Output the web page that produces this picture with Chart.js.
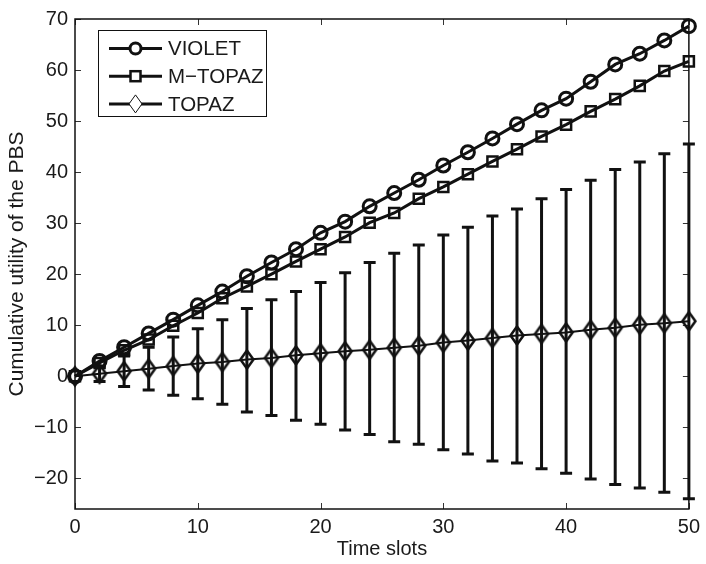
<!DOCTYPE html>
<html>
<head>
<meta charset="utf-8">
<script src="https://cdn.jsdelivr.net/npm/chart.js@4/dist/chart.umd.min.js"></script>
<style>
  html, body { margin: 0; padding: 0; background: #fff; }
</style>
</head>
<body>
<canvas id="chart" width="706" height="564"></canvas>
<script>
// data
const slots = [0, 2, 4, 6, 8, 10, 12, 14, 16, 18, 20, 22, 24, 26, 28, 30, 32, 34, 36, 38, 40, 42, 44, 46, 48, 50];
const violet = [0, 3.0, 5.7, 8.4, 11.1, 13.9, 16.6, 19.6, 22.3, 24.9, 28.1, 30.3, 33.3, 35.9, 38.5, 41.3, 43.9, 46.6, 49.4, 52.1, 54.4, 57.7, 61.1, 63.2, 65.8, 68.6];
const mTopaz = [0, 2.6, 5.1, 7.2, 9.9, 12.4, 15.3, 17.6, 20.0, 22.5, 24.9, 27.3, 30.1, 32.0, 34.8, 37.1, 39.6, 42.1, 44.5, 47.0, 49.3, 51.9, 54.3, 56.9, 59.8, 61.7];
const topaz = [0, 0.5, 1.0, 1.5, 2.0, 2.5, 2.8, 3.3, 3.6, 4.1, 4.5, 4.9, 5.2, 5.6, 6.0, 6.6, 7.0, 7.5, 8.0, 8.3, 8.6, 9.1, 9.5, 10.1, 10.4, 10.8];
const topazLow = [0, -1.0, -2.0, -2.7, -3.7, -4.4, -5.5, -7.0, -7.7, -8.6, -9.4, -10.5, -11.4, -12.8, -13.3, -14.4, -15.2, -16.6, -17.0, -18.1, -19.0, -20.1, -21.2, -21.9, -22.7, -24.0];
const topazHigh = [0, 2.0, 4.0, 5.7, 7.7, 9.3, 11.1, 13.3, 15.0, 16.6, 18.4, 20.3, 22.3, 24.1, 25.7, 27.7, 29.2, 31.4, 32.8, 34.8, 36.6, 38.4, 40.5, 42.0, 43.6, 45.5];
const seriesNames = ['VIOLET', 'M\u2212TOPAZ', 'TOPAZ'];
const xTicks = [0, 10, 20, 30, 40, 50];
const yTicks = [-20, -10, 0, 10, 20, 30, 40, 50, 60, 70];

const INK = '#111';
const TEXT = '#1a1a1a';
const FONT = '"Liberation Sans", Arial, Helvetica, sans-serif';

Chart.defaults.font.family = FONT;
Chart.defaults.font.size = 20;
Chart.defaults.color = TEXT;

function diamond(hw, hh, lw) {
  const c = document.createElement('canvas');
  c.width = Math.ceil(2 * hw + lw + 2);
  c.height = Math.ceil(2 * hh + lw + 2);
  const g = c.getContext('2d');
  const cx = c.width / 2, cy = c.height / 2;
  g.beginPath();
  g.moveTo(cx, cy - hh);
  g.lineTo(cx + hw, cy);
  g.lineTo(cx, cy + hh);
  g.lineTo(cx - hw, cy);
  g.closePath();
  g.lineWidth = lw;
  g.strokeStyle = INK;
  g.stroke();
  return c;
}

const pts = arr => arr.map((v, i) => ({ x: slots[i], y: v }));
const minus = v => String(v).replace('-', '\u2212');

// matlab style box with inward ticks, plus the TOPAZ error bars
const axesBox = {
  id: 'axesBox',
  beforeDatasetsDraw(chart) {
    const { ctx, chartArea: a, scales: { x, y } } = chart;
    ctx.save();
    ctx.strokeStyle = '#333';
    ctx.lineWidth = 1;
    const len = 6;
    ctx.beginPath();
    for (const v of xTicks) {
      const px = Math.round(x.getPixelForValue(v)) + 0.5;
      ctx.moveTo(px, a.bottom); ctx.lineTo(px, a.bottom - len);
      ctx.moveTo(px, a.top); ctx.lineTo(px, a.top + len);
    }
    for (const v of yTicks) {
      const py = Math.round(y.getPixelForValue(v)) + 0.5;
      ctx.moveTo(a.left, py); ctx.lineTo(a.left + len, py);
      ctx.moveTo(a.right, py); ctx.lineTo(a.right - len, py);
    }
    ctx.stroke();
    ctx.strokeStyle = INK;
    ctx.lineWidth = 1.5;
    ctx.strokeRect(a.left, a.top, a.right - a.left, a.bottom - a.top);

    ctx.lineWidth = 3;
    ctx.lineCap = 'butt';
    const cap = 6;
    ctx.beginPath();
    slots.forEach((s, i) => {
      if (topazLow[i] === topazHigh[i]) return;
      const px = x.getPixelForValue(s);
      const lo = y.getPixelForValue(topazLow[i]);
      const hi = y.getPixelForValue(topazHigh[i]);
      ctx.moveTo(px, lo); ctx.lineTo(px, hi);
      ctx.moveTo(px - cap, lo); ctx.lineTo(px + cap, lo);
      ctx.moveTo(px - cap, hi); ctx.lineTo(px + cap, hi);
    });
    ctx.stroke();
    ctx.restore();
  }
};

// legend box drawn like the original (line + marker)
const boxLegend = {
  id: 'boxLegend',
  afterDraw(chart) {
    const { ctx } = chart;
    const box = { left: 98.5, top: 30.5, right: 266.5, bottom: 116.5 };
    const row0 = 48.5, step = 27.7, x0 = 109, x1 = 162, tx = 168;
    ctx.save();
    ctx.fillStyle = '#fff';
    ctx.fillRect(box.left, box.top, box.right - box.left, box.bottom - box.top);
    ctx.strokeStyle = INK;
    ctx.lineWidth = 1;
    ctx.strokeRect(box.left, box.top, box.right - box.left, box.bottom - box.top);
    seriesNames.forEach((name, i) => {
      const yy = row0 + i * step;
      const cx = (x0 + x1) / 2;
      ctx.strokeStyle = INK;
      ctx.lineWidth = 3;
      ctx.beginPath();
      ctx.moveTo(x0, yy); ctx.lineTo(x1, yy);
      ctx.stroke();
      ctx.fillStyle = '#fff';
      if (i === 0) {
        ctx.lineWidth = 3;
        ctx.beginPath(); ctx.arc(cx, yy, 5.5, 0, Math.PI * 2); ctx.fill(); ctx.stroke();
      } else if (i === 1) {
        ctx.lineWidth = 2.5;
        ctx.fillRect(cx - 5, yy - 5, 10, 10);
        ctx.strokeRect(cx - 5, yy - 5, 10, 10);
      } else {
        ctx.lineWidth = 1;
        ctx.beginPath();
        ctx.moveTo(cx, yy - 9); ctx.lineTo(cx + 6.5, yy); ctx.lineTo(cx, yy + 9); ctx.lineTo(cx - 6.5, yy);
        ctx.closePath(); ctx.fill(); ctx.stroke();
      }
      ctx.fillStyle = TEXT;
      ctx.font = '20.5px ' + FONT;
      ctx.textBaseline = 'middle';
      ctx.textAlign = 'left';
      ctx.fillText(name, tx, yy + 1);
    });
    ctx.restore();
  }
};

new Chart(document.getElementById('chart').getContext('2d'), {
  type: 'line',
  data: {
    datasets: [
      {
        label: seriesNames[0], data: pts(violet),
        borderColor: INK, borderWidth: 3, pointStyle: 'circle', pointRadius: 6.5,
        pointBorderWidth: 3, pointBorderColor: INK, pointBackgroundColor: 'rgba(0,0,0,0)',
        tension: 0, clip: false
      },
      {
        label: seriesNames[1], data: pts(mTopaz),
        borderColor: INK, borderWidth: 3, pointStyle: 'rect', pointRadius: 7.1,
        pointBorderWidth: 2.5, pointBorderColor: INK, pointBackgroundColor: 'rgba(0,0,0,0)',
        tension: 0, clip: false
      },
      {
        label: seriesNames[2], data: pts(topaz),
        borderColor: INK, borderWidth: 2, pointStyle: diamond(6.5, 9, 2.5), pointRadius: 8,
        tension: 0, clip: false
      }
    ]
  },
  options: {
    responsive: false,
    animation: false,
    devicePixelRatio: 1,
    events: [],
    layout: { padding: { left: 0, right: 13, top: 16, bottom: 0 } },
    plugins: { legend: { display: false }, tooltip: { enabled: false } },
    scales: {
      x: {
        type: 'linear', min: 0, max: 50,
        afterBuildTicks: s => { s.ticks = xTicks.map(v => ({ value: v })); },
        afterFit: s => { s.height = 55; },
        grid: { display: false, drawTicks: false },
        border: { display: false },
        ticks: { padding: 6, color: TEXT, maxRotation: 0, autoSkip: false, callback: minus },
        title: { display: true, text: 'Time slots', color: TEXT, padding: { top: 0, bottom: 3 } }
      },
      y: {
        type: 'linear', min: -26, max: 70,
        afterBuildTicks: s => { s.ticks = yTicks.map(v => ({ value: v })); },
        afterFit: s => { s.width = 75; },
        grid: { display: false, drawTicks: false },
        border: { display: false },
        ticks: { padding: 7, color: TEXT, autoSkip: false, callback: minus },
        title: { display: true, text: 'Cumulative utility of the PBS', color: TEXT, font: { size: 21 }, padding: { top: 5, bottom: 0 } }
      }
    }
  },
  plugins: [axesBox, boxLegend]
});
</script>
</body>
</html>
